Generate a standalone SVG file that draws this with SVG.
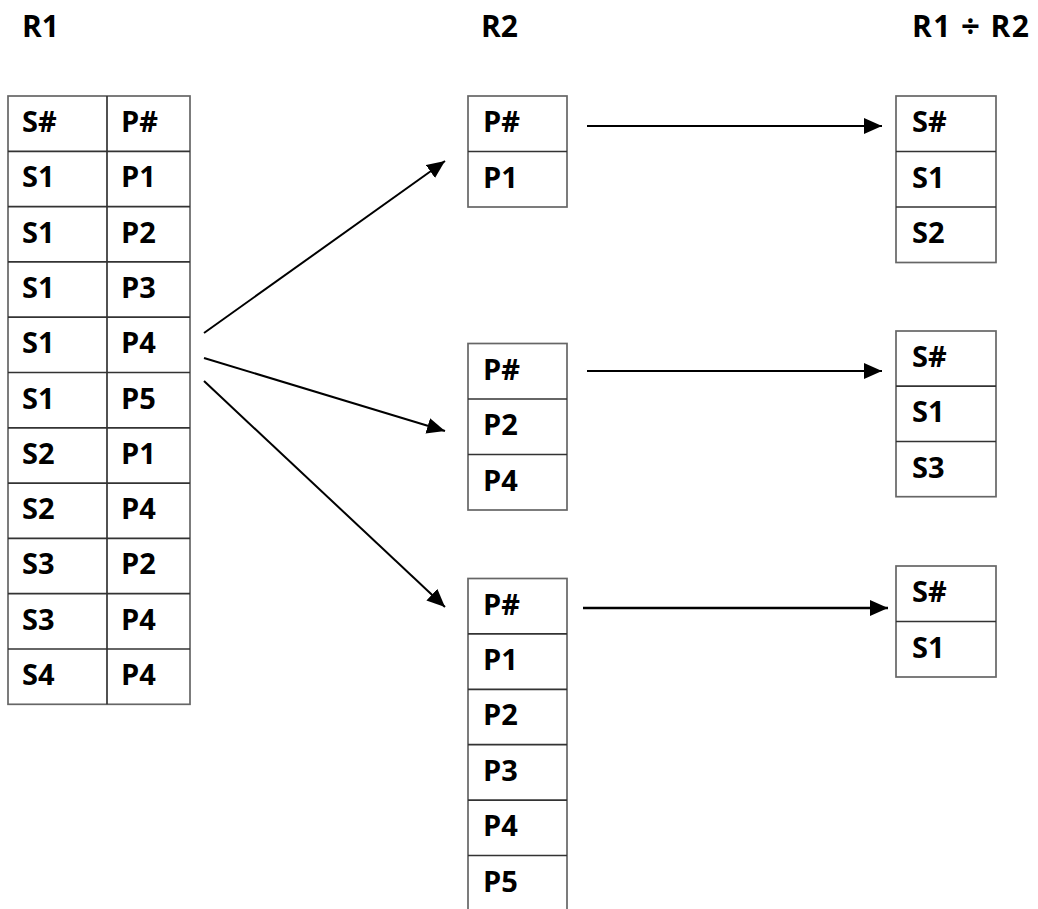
<svg xmlns="http://www.w3.org/2000/svg" width="1038" height="909" viewBox="0 0 1038 909">
<style>
  .t { font-family: "Open Sans", "Noto Sans", "DejaVu Sans", sans-serif; font-weight: bold; font-size: 29px; fill: #000; }
  .h { font-family: "Open Sans", "Noto Sans", "DejaVu Sans", sans-serif; font-weight: bold; font-size: 30px; fill: #000; }
  .box { fill: #fff; stroke: #666; stroke-width: 1.7; }
  .ln { stroke: #333; stroke-width: 1.7; }
  .c { stroke: #000; stroke-width: 2; fill: none; marker-end: url(#ah); }
</style>
<defs>
  <marker id="ah" markerUnits="userSpaceOnUse" markerWidth="19" markerHeight="17" refX="18" refY="8" orient="auto">
    <path d="M0,0 L18,8 L0,16 z" fill="#000"/>
  </marker>
</defs>
<rect width="1038" height="909" fill="#fff"/>

<g id="titles">
  <text class="h" x="22" y="37">R1</text>
  <text class="h" x="481" y="37">R2</text>
  <text class="h" x="912" y="37" textLength="117" lengthAdjust="spacing">R1 <tspan style="font-size:33px">÷</tspan> R2</text>
</g>

<g id="R1">
  <rect class="box" x="8" y="96" width="182" height="608.3"/>
  <line class="ln" x1="107" y1="96" x2="107" y2="704.3"/>
  <line class="ln" x1="8" y1="151.3" x2="190" y2="151.3"/>
  <line class="ln" x1="8" y1="206.6" x2="190" y2="206.6"/>
  <line class="ln" x1="8" y1="261.9" x2="190" y2="261.9"/>
  <line class="ln" x1="8" y1="317.2" x2="190" y2="317.2"/>
  <line class="ln" x1="8" y1="372.5" x2="190" y2="372.5"/>
  <line class="ln" x1="8" y1="427.8" x2="190" y2="427.8"/>
  <line class="ln" x1="8" y1="483.1" x2="190" y2="483.1"/>
  <line class="ln" x1="8" y1="538.4" x2="190" y2="538.4"/>
  <line class="ln" x1="8" y1="593.7" x2="190" y2="593.7"/>
  <line class="ln" x1="8" y1="649" x2="190" y2="649"/>
  <text class="t" x="22" y="132">S#</text><text class="t" x="121" y="132">P#</text>
  <text class="t" x="22" y="187.3">S1</text><text class="t" x="121" y="187.3">P1</text>
  <text class="t" x="22" y="242.6">S1</text><text class="t" x="121" y="242.6">P2</text>
  <text class="t" x="22" y="297.9">S1</text><text class="t" x="121" y="297.9">P3</text>
  <text class="t" x="22" y="353.2">S1</text><text class="t" x="121" y="353.2">P4</text>
  <text class="t" x="22" y="408.5">S1</text><text class="t" x="121" y="408.5">P5</text>
  <text class="t" x="22" y="463.8">S2</text><text class="t" x="121" y="463.8">P1</text>
  <text class="t" x="22" y="519.1">S2</text><text class="t" x="121" y="519.1">P4</text>
  <text class="t" x="22" y="574.4">S3</text><text class="t" x="121" y="574.4">P2</text>
  <text class="t" x="22" y="629.7">S3</text><text class="t" x="121" y="629.7">P4</text>
  <text class="t" x="22" y="685">S4</text><text class="t" x="121" y="685">P4</text>
</g>

<g id="R2a">
  <rect class="box" x="468" y="96" width="99" height="111"/>
  <line class="ln" x1="468" y1="151.5" x2="567" y2="151.5"/>
  <text class="t" x="483" y="132">P#</text>
  <text class="t" x="483" y="187.5">P1</text>
</g>

<g id="R2b">
  <rect class="box" x="468" y="343.5" width="99" height="166.5"/>
  <line class="ln" x1="468" y1="399" x2="567" y2="399"/>
  <line class="ln" x1="468" y1="454.5" x2="567" y2="454.5"/>
  <text class="t" x="483" y="379.5">P#</text>
  <text class="t" x="483" y="435">P2</text>
  <text class="t" x="483" y="490.5">P4</text>
</g>

<g id="R2c">
  <rect class="box" x="468" y="578.5" width="99" height="332.4"/>
  <line class="ln" x1="468" y1="633.9" x2="567" y2="633.9"/>
  <line class="ln" x1="468" y1="689.3" x2="567" y2="689.3"/>
  <line class="ln" x1="468" y1="744.7" x2="567" y2="744.7"/>
  <line class="ln" x1="468" y1="800.1" x2="567" y2="800.1"/>
  <line class="ln" x1="468" y1="855.5" x2="567" y2="855.5"/>
  <text class="t" x="483" y="614.5">P#</text>
  <text class="t" x="483" y="669.9">P1</text>
  <text class="t" x="483" y="725.3">P2</text>
  <text class="t" x="483" y="780.7">P3</text>
  <text class="t" x="483" y="836.1">P4</text>
  <text class="t" x="483" y="891.5">P5</text>
</g>

<g id="Q1">
  <rect class="box" x="896" y="96" width="100" height="166.5"/>
  <line class="ln" x1="896" y1="151.5" x2="996" y2="151.5"/>
  <line class="ln" x1="896" y1="207" x2="996" y2="207"/>
  <text class="t" x="912" y="132">S#</text>
  <text class="t" x="912" y="187.5">S1</text>
  <text class="t" x="912" y="243">S2</text>
</g>

<g id="Q2">
  <rect class="box" x="896" y="331" width="100" height="165.7"/>
  <line class="ln" x1="896" y1="386.2" x2="996" y2="386.2"/>
  <line class="ln" x1="896" y1="441.5" x2="996" y2="441.5"/>
  <text class="t" x="912" y="367">S#</text>
  <text class="t" x="912" y="422.2">S1</text>
  <text class="t" x="912" y="477.5">S3</text>
</g>

<g id="Q3">
  <rect class="box" x="896" y="566" width="100" height="111"/>
  <line class="ln" x1="896" y1="621.5" x2="996" y2="621.5"/>
  <text class="t" x="912" y="602">S#</text>
  <text class="t" x="912" y="657.5">S1</text>
</g>

<g id="connectors">
  <line class="c" x1="204" y1="333" x2="445" y2="161"/>
  <line class="c" x1="204" y1="358" x2="445" y2="431"/>
  <line class="c" x1="204" y1="381" x2="445" y2="607"/>
  <line class="c" x1="587" y1="126" x2="882" y2="126"/>
  <line class="c" x1="587" y1="371" x2="882" y2="371"/>
  <line class="c" x1="583" y1="608" x2="888" y2="608" style="stroke-width:2.5"/>
</g>
</svg>
